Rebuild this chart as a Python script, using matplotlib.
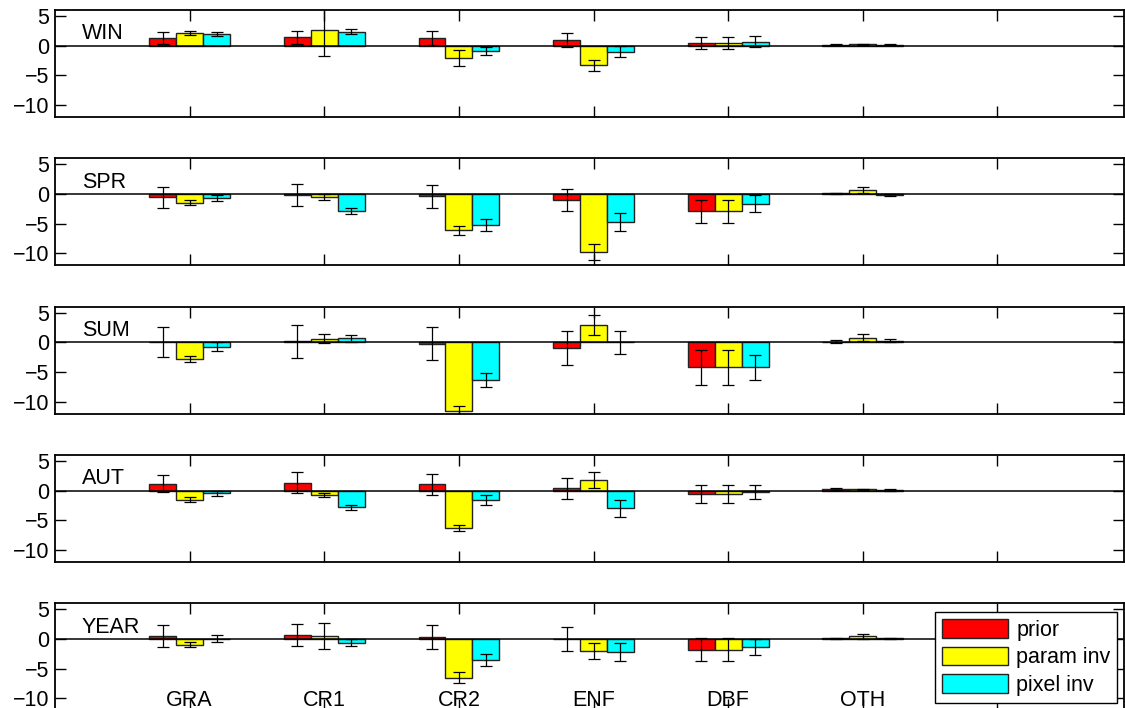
import numpy as np
import matplotlib
matplotlib.use("Agg")
import matplotlib.pyplot as plt

plt.rcParams['font.family'] = ['Liberation Sans', 'DejaVu Sans']

categories = ["GRA", "CR1", "CR2", "ENF", "DBF", "OTH"]
seasons = ["WIN", "SPR", "SUM", "AUT", "YEAR"]
series = ["prior", "param inv", "pixel inv"]
colors = ["#ff0000", "#ffff00", "#00ffff"]

# bar heights, one row per season
prior_val = [[1.3, 1.4, 1.25, 1.0, 0.5, 0.2],
             [-0.55, -0.15, -0.35, -1.0, -2.9, 0.1],
             [0.1, 0.15, -0.2, -0.95, -4.2, 0.1],
             [1.2, 1.35, 1.1, 0.4, -0.6, 0.25],
             [0.5, 0.7, 0.4, -0.05, -1.8, 0.1]]
param_val = [[2.1, 2.65, -2.1, -3.3, 0.5, 0.25],
             [-1.5, -0.45, -6.1, -9.75, -2.9, 0.6],
             [-2.85, 0.6, -11.5, 2.95, -4.2, 0.8],
             [-1.5, -0.75, -6.3, 1.85, -0.6, 0.2],
             [-0.95, 0.5, -6.5, -2.05, -1.8, 0.45]]
pixel_val = [[1.95, 2.35, -0.9, -1.0, 0.7, 0.2],
             [-0.65, -2.9, -5.2, -4.7, -1.6, -0.2],
             [-0.75, 0.7, -6.35, 0.0, -4.2, 0.3],
             [-0.4, -2.8, -1.6, -2.95, -0.2, 0.15],
             [0.05, -0.6, -3.5, -2.2, -1.35, 0.1]]

# half-widths of the error bars
prior_err = [[1.0, 1.1, 1.2, 1.15, 1.0, 0.1],
             [1.8, 1.9, 1.95, 1.9, 1.9, 0.15],
             [2.55, 2.7, 2.75, 2.8, 2.9, 0.25],
             [1.5, 1.75, 1.75, 1.75, 1.55, 0.15],
             [1.8, 1.9, 2.0, 2.0, 1.95, 0.15]]
param_err = [[0.35, 4.4, 1.35, 0.95, 1.0, 0.1],
             [0.42, 0.5, 0.75, 1.35, 1.9, 0.5],
             [0.5, 0.75, 0.73, 1.7, 2.9, 0.6],
             [0.4, 0.36, 0.5, 1.35, 1.55, 0.15],
             [0.4, 2.2, 0.9, 1.35, 1.95, 0.45]]
pixel_err = [[0.35, 0.45, 0.7, 0.9, 0.87, 0.1],
             [0.55, 0.5, 1.05, 1.5, 1.4, 0.15],
             [0.75, 0.6, 1.2, 1.95, 2.05, 0.25],
             [0.42, 0.47, 0.87, 1.4, 1.2, 0.15],
             [0.55, 0.55, 1.0, 1.5, 1.4, 0.1]]

W, H = 1125, 708
fig = plt.figure(figsize=(W / 100, H / 100), dpi=100)

x = np.arange(1, len(categories) + 1)
width = 0.2
left, axw = 55 / W, 1069 / W
axh = 107 / H
bottoms = [0.8347, 0.6252, 0.4157, 0.2062, -0.0033]
fs = 15.5

for i, season in enumerate(seasons):
    ax = fig.add_axes([left, bottoms[i], axw, axh])
    vals = [prior_val[i], param_val[i], pixel_val[i]]
    errs = [prior_err[i], param_err[i], pixel_err[i]]
    for j in range(3):
        xs = x + (j - 1) * width
        ax.bar(xs, vals[j], width, color=colors[j], edgecolor="#222222",
               linewidth=1.0, label=series[j], zorder=2)
        ax.errorbar(xs, vals[j], yerr=errs[j], fmt="none", ecolor="black",
                    elinewidth=0.9, capsize=4.3, capthick=0.9, zorder=3)
    ax.axhline(0, color="black", linewidth=1.1, zorder=2.5)
    ax.set_xlim(0, 7.94)
    ax.set_ylim(-12, 6)
    ax.set_yticks([-10, -5, 0, 5])
    ax.set_xticks(range(1, 8))
    ax.tick_params(direction="in", top=True, right=True, length=8,
                   width=1, labelsize=fs, pad=4)
    for s in ax.spines.values():
        s.set_linewidth(1.3)
    ax.text(0.2, 2, season, va="center", ha="left", fontsize=fs)
    if i == len(seasons) - 1:
        ax.set_xticklabels(categories + [""])
        ax.tick_params(axis="x", pad=-14.7)
        handles, labels = ax.get_legend_handles_labels()
    else:
        ax.set_xticklabels([])

leg = fig.legend(handles[:3], labels[:3], loc="lower left",
                 bbox_to_anchor=(935 / W, 5 / H), borderaxespad=0,
                 fontsize=fs, handlelength=3.05, handleheight=0.95,
                 labelspacing=0.28, handletextpad=0.4, borderpad=0.32,
                 fancybox=False, framealpha=1)
leg.get_frame().set_edgecolor("black")
leg.get_frame().set_linewidth(1.0)

fig.savefig("out.png", dpi=100)
